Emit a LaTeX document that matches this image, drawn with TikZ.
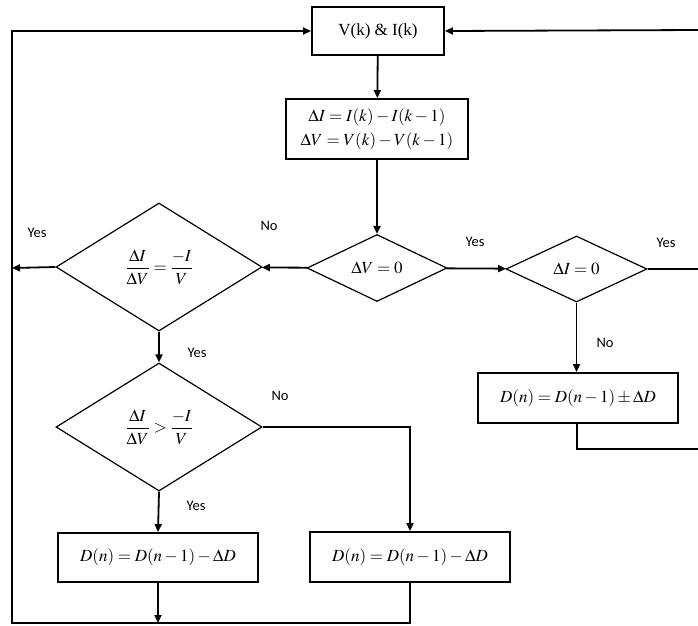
\documentclass[tikz,border=0pt]{standalone}
\usepackage{mathptmx}
\usepackage[no-math]{fontspec}
\setmainfont{Liberation Serif}
\newfontfamily\lblfont{Carlito}
\usetikzlibrary{shapes.geometric,arrows.meta}
\begin{document}
\begin{tikzpicture}[x=1pt,y=-1pt,
  procbox/.style={draw, line width=1.9pt, inner sep=0pt, font=\fontsize{17}{20}\selectfont},
  dec/.style={draw, diamond, aspect=2, inner sep=0pt, line width=1.2pt, font=\fontsize{17}{20}\selectfont},
  conn/.style={line width=1.8pt, -{Triangle[length=8pt,width=7pt]}},
  plain/.style={line width=1.8pt},
  lbl/.style={font=\lblfont\fontsize{14.5}{16}\selectfont, inner sep=0pt}]
\useasboundingbox (0,0) rectangle (698,625);
\node[procbox, minimum width=132pt, minimum height=48pt] (vi) at (378,31) {V(k) \& I(k)};
\node[procbox, minimum width=182pt, minimum height=60pt, align=center] (dd) at (377,129)
  {$\Delta I = I(k)-I(k-1)$\\[4pt]$\Delta V = V(k)-V(k-1)$};
\node[dec, minimum width=140pt, minimum height=67pt] (dv) at (377,268) {$\Delta V = 0$};
\node[dec, minimum width=141pt, minimum height=66pt] (di) at (576.5,269) {$\Delta I = 0$};
\node[dec, minimum width=206pt, minimum height=128pt] (d1) at (159,267)
  {$\displaystyle\frac{\Delta I}{\Delta V}=\frac{-I}{V}$};
\node[dec, minimum width=206pt, minimum height=128pt] (d2) at (159,427)
  {$\displaystyle\frac{\Delta I}{\Delta V}>\frac{-I}{V}$};
\node[procbox, minimum width=200pt, minimum height=50pt] (b3) at (578,398) {$D(n)=D(n-1)\pm\Delta D$};
\node[procbox, minimum width=200pt, minimum height=49pt] (b4) at (158,557.5) {$D(n)=D(n-1)-\Delta D$};
\node[procbox, minimum width=200pt, minimum height=50pt] (b5) at (410,557) {$D(n)=D(n-1)-\Delta D$};
\coordinate (bl) at (12,623);
\coordinate (ly) at (12,268);
\coordinate (tr) at (698,30);
\coordinate (rr) at (698,269);
\coordinate (b3c) at (577,449);
\coordinate (b3r) at (698,449);
\coordinate (bm) at (158,623);
\coordinate (br) at (410,623);
\draw[conn] (vi) -- (dd);
\draw[conn] (dd) -- (dv);
\draw[conn] (dv) -- (di);
\draw[conn] (dv) -- (d1);
\draw[conn] (d1.west) -- (ly);
\draw[conn] (d1.south) -- (d2.north);
\draw[conn] (d2.south) -- (b4.north);
\draw[conn] (d2.east) -| (b5.north);
\draw[conn] (di.south) -- (di.south |- b3.north);
\draw[plain] (di.east) -- (rr);
\draw[plain] (b3.south -| b3c) -- (b3c) -- (b3r);
\draw[conn] (tr) -- (vi.east);
\draw[conn] (b4.south) -- (bm);
\draw[conn] (b5.south) -- (br) -- (bl) |- (vi.west);
\node[lbl] (l1) at (37,233) {Yes};
\node[lbl] (l2) at (269,226) {No};
\node[lbl] (l3) at (475,242) {Yes};
\node[lbl] (l4) at (666,243) {Yes};
\node[lbl] (l5) at (605,343) {No};
\node[lbl] (l6) at (197,353) {Yes};
\node[lbl] (l7) at (280,396) {No};
\node[lbl] (l8) at (196,506) {Yes};
\end{tikzpicture}
\end{document}
